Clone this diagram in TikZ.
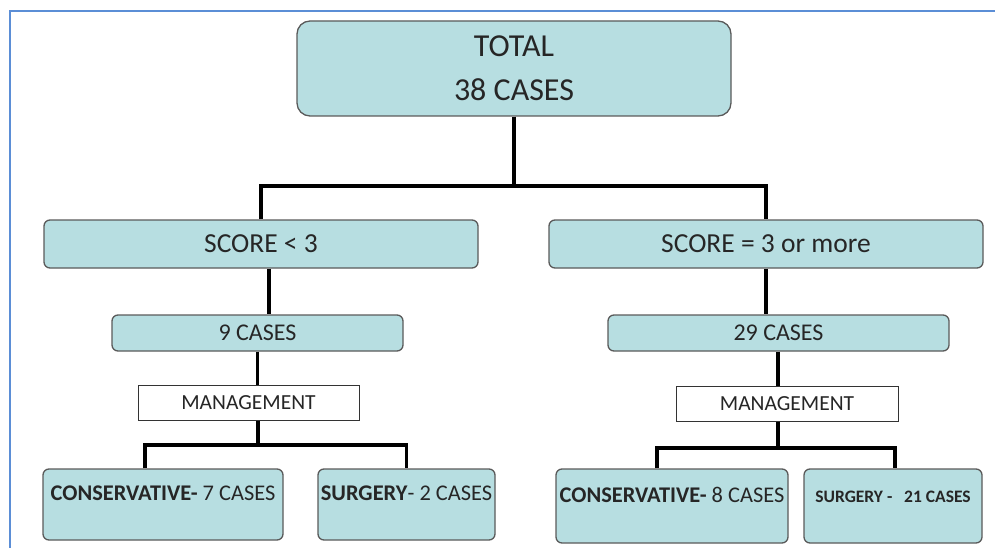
\documentclass[tikz,border=0pt]{standalone}
\usepackage{fontspec}
\setmainfont{Carlito}
\usepackage{tikz}
\usetikzlibrary{calc}

\definecolor{boxfill}{HTML}{B7DEE1}
\definecolor{boxline}{HTML}{5A5A5A}
\definecolor{framecol}{HTML}{5B8ED6}
\definecolor{txt}{HTML}{262626}

\begin{document}
\begin{tikzpicture}[x=1pt, y=-1pt,
  box/.style={draw=boxline, line width=1.3pt, fill=boxfill, rounded corners=6pt,
    text=txt, inner sep=0pt, align=center},
  mgmt/.style={draw=black!80, line width=1pt, fill=white, text=txt, inner sep=0pt,
    minimum height=35pt, font=\fontsize{21.5}{24}\selectfont},
  leaf/.style={box, minimum height=71pt, text height=15pt, text depth=23pt},
  link/.style={line width=3.8pt, black}]
\useasboundingbox (0,0) rectangle (995,548);
\draw [framecol, line width=2.5pt] (10,548) -- (10,11) -- (995,11);

\node [box, rounded corners=13pt, minimum width=434pt, minimum height=95pt,
  font=\fontsize{32}{44}\selectfont] (total) at (514,68.5) {TOTAL\\38 CASES};

\node [box, minimum width=434pt, minimum height=48pt, font=\fontsize{27.5}{30}\selectfont]
  (scoreL) at (261,244) {SCORE < 3};
\node [box, minimum width=434pt, minimum height=48pt, font=\fontsize{27.5}{30}\selectfont]
  (scoreR) at (766,244) {SCORE = 3 or more};

\node [box, minimum width=291pt, minimum height=36pt, font=\fontsize{24}{26}\selectfont]
  (casesL) at (257.5,333) {9 CASES};
\node [box, minimum width=341pt, minimum height=36pt, font=\fontsize{24}{26}\selectfont]
  (casesR) at (778.5,333) {29 CASES};

\node [mgmt, minimum width=221pt] (mgmtL) at (248.5,402.5) {MANAGEMENT};
\node [mgmt, minimum width=222pt] (mgmtR) at (787,403.5) {MANAGEMENT};

\node [leaf, minimum width=240pt, font=\fontsize{22.4}{24}\selectfont]
  (consL) at (163,504.5) {\textbf{CONSERVATIVE-} 7 CASES};
\node [leaf, minimum width=177pt, font=\fontsize{22.4}{24}\selectfont]
  (surgL) at (406.5,504.5) {\textbf{SURGERY}- 2 CASES};
\node [leaf, minimum width=232pt, minimum height=74pt, font=\fontsize{22.4}{24}\selectfont]
  (consR) at (672,506) {\textbf{CONSERVATIVE-} 8 CASES};
\node [leaf, minimum width=178pt, minimum height=74pt, font=\fontsize{17.5}{20}\bfseries\selectfont]
  (surgR) at (893,506) {SURGERY -\ \ \ 21 CASES};

\coordinate (jTop) at (514,186);
\coordinate (jL) at (258,445);
\coordinate (jR) at (778,448);

\draw [link] (total.south) -- (jTop);
\draw [link] (scoreL.north) |- (jTop) -| (scoreR.north);

\draw [link] ([xshift=8pt]scoreL.south) -- ([xshift=8pt]scoreL.south |- casesL.north);
\draw [link] (casesL.south) -- (casesL.south |- mgmtL.north);
\draw [link] (jL |- mgmtL.south) -- (jL);
\draw [link] ([xshift=-18pt]consL.north) |- (jL) -| (surgL.north);

\draw [link] (scoreR.south) -- (scoreR.south |- casesR.north);
\draw [link] (jR |- casesR.south) -- (jR |- mgmtR.north);
\draw [link] (jR |- mgmtR.south) -- (jR);
\draw [link] ([xshift=-15pt]consR.north) |- (jR) -| ([xshift=2pt]surgR.north);
\end{tikzpicture}
\end{document}
